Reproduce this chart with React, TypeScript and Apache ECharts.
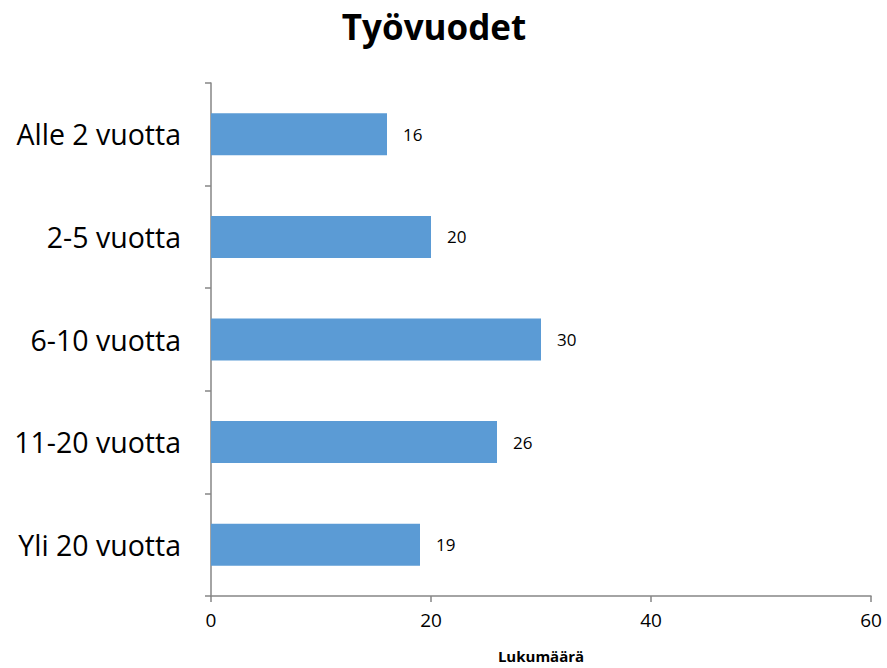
import React, { useEffect, useRef } from "react";
import * as echarts from "echarts";

const categories = ["Alle 2 vuotta", "2-5 vuotta", "6-10 vuotta", "11-20 vuotta", "Yli 20 vuotta"];
const values = [16, 20, 30, 26, 19];
const xTicks = { min: 0, max: 60, interval: 20 };

export default function App() {
  const ref = useRef<HTMLDivElement>(null);
  useEffect(() => {
    const chart = echarts.init(ref.current!, null, { renderer: "svg" });
    const axisGray = "#868686";
    chart.setOption({
      animation: false,
      backgroundColor: "#ffffff",
      textStyle: { fontFamily: "Open Sans" },
      title: {
        text: "Työvuodet",
        left: 429,
        textAlign: "center",
        top: 4,
        textStyle: { fontSize: 35, fontWeight: "bold", color: "#000", fontFamily: "Open Sans" },
      },
      grid: { left: 211, right: 16, top: 83, bottom: 71, containLabel: false },
      xAxis: {
        type: "value",
        min: xTicks.min,
        max: xTicks.max,
        interval: xTicks.interval,
        name: "Lukumäärä",
        nameLocation: "middle",
        nameGap: 52,
        nameTextStyle: { fontSize: 15, fontWeight: "bold", color: "#000", fontFamily: "Open Sans" },
        axisLine: { show: true, lineStyle: { color: axisGray, width: 1.5 } },
        axisTick: { show: true, length: 6, lineStyle: { color: axisGray, width: 1.5 } },
        splitLine: { show: false },
        axisLabel: { fontSize: 19, color: "#000", margin: 14, fontFamily: "Open Sans" },
      },
      yAxis: {
        type: "category",
        data: categories,
        inverse: true,
        axisLine: { show: true, lineStyle: { color: axisGray, width: 1.5 } },
        axisTick: { show: true, length: 6, lineStyle: { color: axisGray, width: 1.5 } },
        axisLabel: { fontSize: 28.5, color: "#000", margin: 30, fontFamily: "Open Sans", padding: [3, 0, 0, 0] },
      },
      series: [
        {
          type: "bar",
          data: values,
          barWidth: 42,
          itemStyle: { color: "#5B9BD5" },
          label: {
            show: true,
            position: "right",
            distance: 16,
            fontSize: 17,
            color: "#000",
            fontFamily: "Open Sans",
            padding: [3, 0, 0, 0],
          },
        },
      ],
    });
    return () => chart.dispose();
  }, []);
  return (
    <div style={{ position: "fixed", left: 0, top: 0, width: 887, height: 668 }}>
      <div ref={ref} style={{ width: 887, height: 668 }} />
    </div>
  );
}
